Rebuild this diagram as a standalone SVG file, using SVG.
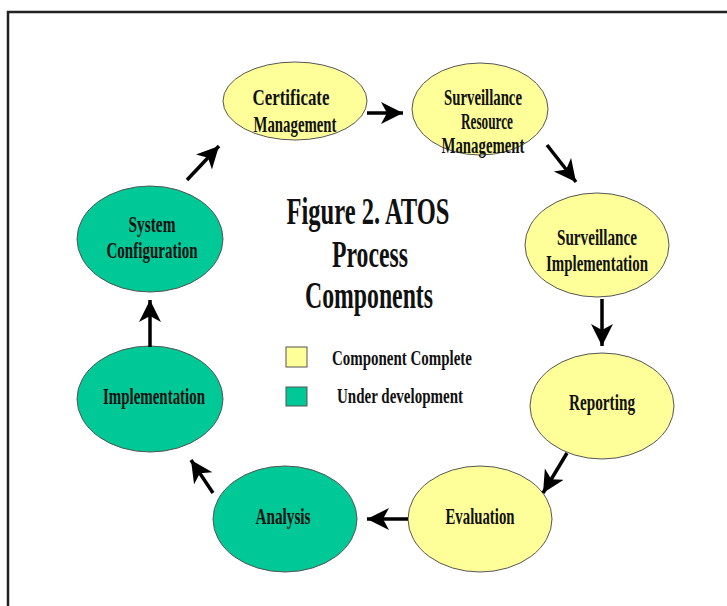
<svg xmlns="http://www.w3.org/2000/svg" width="727" height="606" viewBox="0 0 727 606">
<style>
.done{fill:#FFFF99;stroke:#555;stroke-width:1}
.dev{fill:#00C896;stroke:#555;stroke-width:1}
text{font-family:"Liberation Serif","Times New Roman",serif;font-weight:bold;fill:#111;text-anchor:middle}
.n{font-size:23px}
.t{font-size:38px}
.l{font-size:22px}
.arr line{stroke:#000;stroke-width:3.5;marker-end:url(#ah)}
</style>
<defs>
<marker id="ah" markerUnits="userSpaceOnUse" markerWidth="24" markerHeight="24" refX="22" refY="11" orient="auto">
<path d="M0,0 L22,11 L0,22 L6,11 z" fill="#000"/>
</marker>
</defs>
<rect width="727" height="606" fill="#fff"/>
<g id="border" stroke="#222" stroke-width="2.5" fill="none">
<polyline points="8,606 8,12 727,12"/>
</g>
<g id="title">
<text class="t" x="368" y="224" textLength="163" lengthAdjust="spacingAndGlyphs">Figure 2. ATOS</text>
<text class="t" x="370" y="267" textLength="76" lengthAdjust="spacingAndGlyphs">Process</text>
<text class="t" x="369" y="308" textLength="128" lengthAdjust="spacingAndGlyphs">Components</text>
</g>
<g id="legend">
<rect class="done" x="286" y="347" width="21" height="20"/>
<text class="l" x="402" y="365" textLength="140" lengthAdjust="spacingAndGlyphs">Component Complete</text>
<rect class="dev" x="286" y="387" width="21" height="19"/>
<text class="l" x="400" y="403" textLength="126" lengthAdjust="spacingAndGlyphs">Under development</text>
</g>
<g id="certificate-management">
<ellipse class="done" cx="295" cy="101" rx="72" ry="39"/>
<text class="n" x="291" y="105" textLength="77" lengthAdjust="spacingAndGlyphs">Certificate</text>
<text class="n" x="295" y="132" textLength="83" lengthAdjust="spacingAndGlyphs">Management</text>
</g>
<g id="surveillance-resource-management">
<ellipse class="done" cx="480" cy="109" rx="68" ry="46"/>
<text class="n" x="483" y="105" textLength="78" lengthAdjust="spacingAndGlyphs">Surveillance</text>
<text class="n" x="487" y="129" textLength="52" lengthAdjust="spacingAndGlyphs">Resource</text>
<text class="n" x="483" y="153" textLength="83" lengthAdjust="spacingAndGlyphs">Management</text>
</g>
<g id="surveillance-implementation">
<ellipse class="done" cx="597" cy="245" rx="72" ry="52"/>
<text class="n" x="597" y="245" textLength="80" lengthAdjust="spacingAndGlyphs">Surveillance</text>
<text class="n" x="597" y="271" textLength="102" lengthAdjust="spacingAndGlyphs">Implementation</text>
</g>
<g id="reporting">
<ellipse class="done" cx="602" cy="406" rx="72" ry="53"/>
<text class="n" x="602" y="410" textLength="66" lengthAdjust="spacingAndGlyphs">Reporting</text>
</g>
<g id="evaluation">
<ellipse class="done" cx="480" cy="519" rx="72" ry="53"/>
<text class="n" x="480" y="524" textLength="69" lengthAdjust="spacingAndGlyphs">Evaluation</text>
</g>
<g id="analysis">
<ellipse class="dev" cx="285" cy="519" rx="72" ry="53"/>
<text class="n" x="283" y="524" textLength="55" lengthAdjust="spacingAndGlyphs">Analysis</text>
</g>
<g id="implementation">
<ellipse class="dev" cx="150" cy="399" rx="73" ry="53"/>
<text class="n" x="154" y="404" textLength="102" lengthAdjust="spacingAndGlyphs">Implementation</text>
</g>
<g id="system-configuration">
<ellipse class="dev" cx="150" cy="239" rx="73" ry="53"/>
<text class="n" x="152" y="232" textLength="47" lengthAdjust="spacingAndGlyphs">System</text>
<text class="n" x="152" y="258" textLength="91" lengthAdjust="spacingAndGlyphs">Configuration</text>
</g>
<g id="connectors" class="arr">
<line x1="367" y1="113" x2="403" y2="113"/>
<line x1="547" y1="145" x2="576" y2="182"/>
<line x1="602" y1="299" x2="602" y2="346"/>
<line x1="567" y1="453" x2="543" y2="493"/>
<line x1="408" y1="519" x2="367" y2="519"/>
<line x1="213" y1="493" x2="191" y2="460"/>
<line x1="150" y1="347" x2="150" y2="300"/>
<line x1="187" y1="180" x2="219" y2="146"/>
</g>
</svg>
